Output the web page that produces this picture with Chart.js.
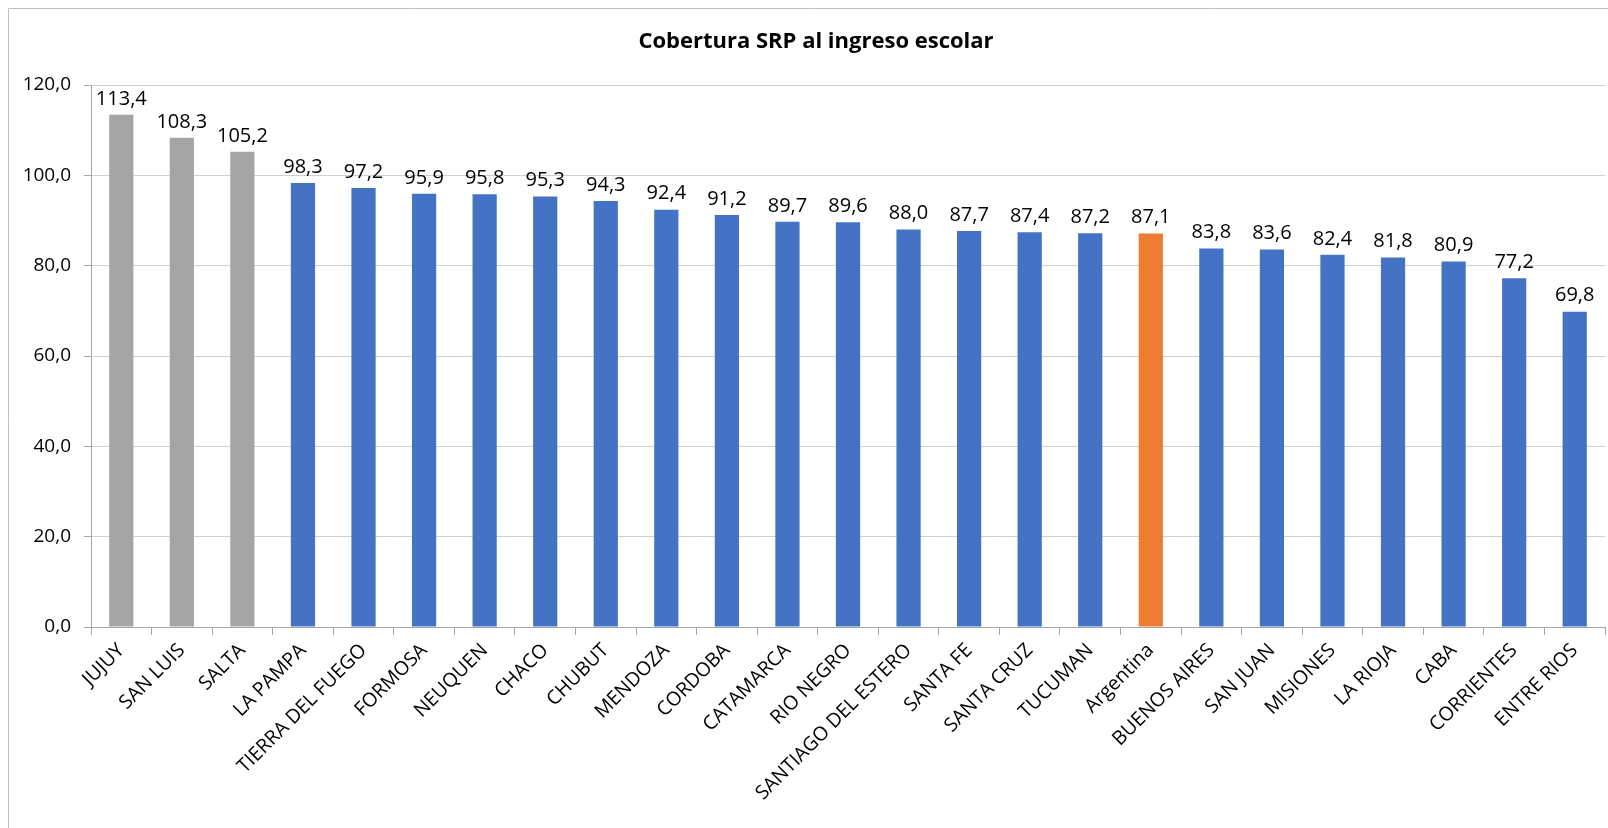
<!DOCTYPE html>
<html>
<head>
<meta charset="utf-8">
<script src="https://cdn.jsdelivr.net/npm/chart.js@4.4.1/dist/chart.umd.min.js"></script>
<style>
  body { margin: 0; background: #fff; }
  #wrap { width: 1608px; height: 828px; }
</style>
</head>
<body>
<div id="wrap"><canvas id="cobertura" width="1608" height="828"></canvas></div>
<script>
// Datos del gráfico
const provincias = [
  "JUJUY", "SAN LUIS", "SALTA", "LA PAMPA", "TIERRA DEL FUEGO", "FORMOSA",
  "NEUQUEN", "CHACO", "CHUBUT", "MENDOZA", "CORDOBA", "CATAMARCA",
  "RIO NEGRO", "SANTIAGO DEL ESTERO", "SANTA FE", "SANTA CRUZ", "TUCUMAN",
  "Argentina", "BUENOS AIRES", "SAN JUAN", "MISIONES", "LA RIOJA", "CABA",
  "CORRIENTES", "ENTRE RIOS"
];
const cobertura = [
  113.4, 108.3, 105.2, 98.3, 97.2, 95.9, 95.8, 95.3, 94.3, 92.4, 91.2, 89.7,
  89.6, 88.0, 87.7, 87.4, 87.2, 87.1, 83.8, 83.6, 82.4, 81.8, 80.9, 77.2, 69.8
];
const colores = [
  "#A5A5A5", "#A5A5A5", "#A5A5A5", // gris: por encima de 100
  "#4472C4", "#4472C4", "#4472C4", "#4472C4", "#4472C4", "#4472C4", "#4472C4",
  "#4472C4", "#4472C4", "#4472C4", "#4472C4", "#4472C4", "#4472C4", "#4472C4",
  "#ED7D31", // Argentina
  "#4472C4", "#4472C4", "#4472C4", "#4472C4", "#4472C4", "#4472C4", "#4472C4"
];
const ejeY = { min: 0, max: 120, paso: 20 };
const titulo = "Cobertura SRP al ingreso escolar";

const FUENTE = "'Open Sans', sans-serif";

// Etiquetas de valor sobre cada barra
const etiquetasValor = {
  id: 'etiquetasValor',
  afterDatasetsDraw(chart) {
    const ctx = chart.ctx;
    const meta = chart.getDatasetMeta(0);
    ctx.save();
    ctx.font = "20px " + FUENTE;
    ctx.fillStyle = "#000";
    ctx.textAlign = "center";
    ctx.textBaseline = "bottom";
    meta.data.forEach((bar, i) => {
      const txt = cobertura[i].toFixed(1).replace('.', ',');
      ctx.fillText(txt, bar.x, bar.y - 6);
    });
    ctx.restore();
  }
};

// Marco del gráfico (borde izquierdo y superior) y título
const marco = {
  id: 'marco',
  beforeDraw(chart) {
    const ctx = chart.ctx;
    ctx.save();
    ctx.strokeStyle = "#BFBFBF";
    ctx.lineWidth = 1;
    ctx.beginPath();
    ctx.moveTo(8.5, 828);
    ctx.lineTo(8.5, 8.5);
    ctx.lineTo(1608, 8.5);
    ctx.stroke();

    // título un poco desplazado a la derecha, como en el original
    ctx.font = "bold 22px " + FUENTE;
    ctx.fillStyle = "#000";
    ctx.textAlign = "center";
    ctx.textBaseline = "middle";
    ctx.fillText(titulo, 816, 42);
    ctx.restore();
  }
};

new Chart(document.getElementById('cobertura'), {
  type: 'bar',
  data: {
    labels: provincias,
    datasets: [{
      label: "Cobertura SRP",
      data: cobertura,
      backgroundColor: colores,
      barPercentage: 0.4,
      categoryPercentage: 1.0
    }]
  },
  options: {
    responsive: false,
    animation: false,
    layout: { padding: { left: 0, right: 3, top: 85, bottom: 0 } },
    scales: {
      x: {
        grid: {
          offset: true,
          drawOnChartArea: false,
          drawTicks: true,
          tickLength: 8,
          tickColor: "#A6A6A6"
        },
        border: { color: "#A6A6A6", width: 1 },
        ticks: {
          autoSkip: false,
          maxRotation: 45,
          minRotation: 45,
          color: "#000",
          padding: 4,
          font: { family: FUENTE, size: 19.5 }
        },
        afterFit(scale) { scale.height = 201; }
      },
      y: {
        min: ejeY.min,
        max: ejeY.max,
        grid: {
          color: "#D0D0D0",
          tickColor: "#A6A6A6",
          tickLength: 7
        },
        border: { color: "#A6A6A6", width: 1 },
        ticks: {
          stepSize: ejeY.paso,
          color: "#000",
          padding: 13,
          font: { family: FUENTE, size: 19 },
          callback: function(value) {
            return value.toFixed(1).replace('.', ','); // formato con coma decimal
          }
        },
        afterFit(scale) { scale.width = 91; }
      }
    },
    plugins: {
      legend: { display: false },
      tooltip: { enabled: false },
      title: { display: false }
    }
  },
  plugins: [etiquetasValor, marco]
});
</script>
</body>
</html>
